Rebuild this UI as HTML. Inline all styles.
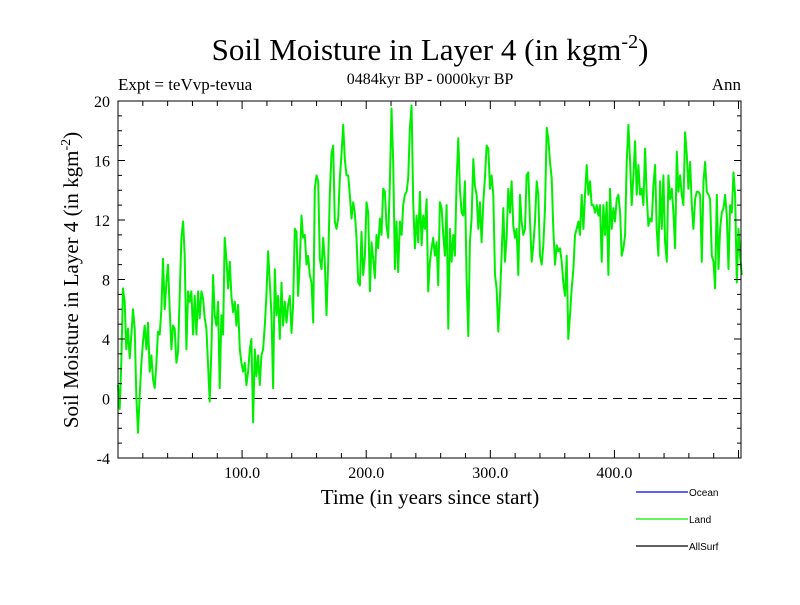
<!DOCTYPE html>
<html><head><meta charset="utf-8"><style>
body{margin:0;background:#fff}
svg text{font-family:"Liberation Serif",serif}
</style></head><body>
<svg id="c" width="800" height="600" xmlns="http://www.w3.org/2000/svg">
<text x="430" y="60" font-size="31" text-anchor="middle">Soil Moisture in Layer 4 (in kgm<tspan dy="-12" font-size="20">-2</tspan><tspan dy="12">)</tspan></text>
<text x="430" y="84" font-size="16" text-anchor="middle">0484kyr BP - 0000kyr BP</text>
<text x="118" y="90" font-size="17">Expt = teVvp-tevua</text>
<text x="741" y="90" font-size="17" text-anchor="end">Ann</text>
<text x="430" y="504" font-size="21" text-anchor="middle">Time (in years since start)</text>
<text transform="translate(78,280) rotate(-90)" font-size="21" text-anchor="middle">Soil Moisture in Layer 4 (in kgm<tspan dy="-8" font-size="14">-2</tspan><tspan dy="8">)</tspan></text>
<g id="axes"></g>
<g id="legend" font-size="10"></g>
</svg>
<script>
const NS='http://www.w3.org/2000/svg';
const yTicks=[-4,0,4,8,12,16,20];
const xTicks=[100,200,300,400];
const xTickLabels=['100.0','200.0','300.0','400.0'];
const startYear=0, stepYears=1.344;
const landValues=[0.9,-0.7,2.4,7.4,6.5,3.3,4.7,2.7,4.2,6.0,
4.7,0.2,-2.3,0.2,2.4,3.8,4.9,3.3,5.1,1.8,
2.9,1.3,0.7,2.4,4.5,4.3,6.0,9.4,6.0,7.8,
9.0,6.0,3.3,4.9,4.7,2.4,3.1,6.9,10.8,11.9,
9.6,3.3,7.2,6.5,7.2,4.3,6.9,4.3,7.2,5.4,
7.2,6.7,5.4,4.7,2.2,-0.2,3.3,8.3,5.6,4.9,
6.5,0.7,5.6,4.3,10.8,9.4,7.4,9.2,6.9,5.8,
6.5,4.9,6.3,3.3,2.4,1.8,2.4,0.9,1.8,3.3,
4.0,-1.6,3.3,1.5,2.9,0.9,2.9,3.3,4.9,6.9,
9.9,7.8,5.6,0.7,8.7,5.6,6.9,4.0,7.8,4.9,
6.5,5.1,6.3,6.9,4.4,6.3,11.4,11.2,6.9,9.2,
12.3,10.8,11.0,9.0,9.6,8.3,7.8,5.1,14.1,15.0,
14.6,9.4,8.7,10.8,9.2,5.6,9.2,13.7,16.5,
17.0,11.9,11.4,12.1,14.8,16.4,18.4,16.1,15.0,15.0,13.7,12.1,13.2,12.5,10.8,7.8,7.6,11.2,8.3,9.6,
13.2,12.5,7.2,10.5,9.4,8.1,11.0,10.1,12.1,11.0,14.1,13.9,11.6,10.8,14.6,19.5,15.9,8.7,11.9,8.5,
11.9,11.0,13.0,13.7,13.9,14.8,18.2,19.7,13.2,10.1,12.3,10.5,13.9,10.3,12.3,11.4,13.4,7.2,9.2,10.1,
10.8,9.6,10.5,7.6,13.2,12.8,11.0,9.6,13.0,4.7,11.4,9.2,11.0,9.6,14.6,17.5,14.1,12.5,12.3,14.6,
8.1,4.2,10.5,12.1,16.1,14.3,13.7,11.4,13.2,10.5,13.2,14.8,17.0,16.8,14.1,15.0,13.7,8.3,7.4,4.5,
6.9,9.6,12.8,9.2,10.8,14.1,12.5,14.6,11.6,10.8,11.4,8.3,13.7,11.9,11.0,11.4,15.0,15.2,11.9,
9.2,10.3,11.9,14.6,13.7,9.6,9.0,10.3,12.8,18.2,17.5,15.9,14.8,11.4,9.0,10.3,9.9,10.1,9.2,7.8,
6.9,9.6,4.0,5.6,7.4,8.7,11.0,11.4,11.9,11.0,13.7,11.4,13.7,15.7,13.7,14.6,13.0,13.0,12.5,13.0,
12.3,13.0,9.2,13.0,11.0,13.2,8.3,14.1,11.4,12.8,11.9,13.4,13.7,12.5,9.6,10.1,11.0,15.9,18.4,15.9,
13.0,15.0,17.3,13.7,15.7,13.7,14.1,13.0,16.8,13.7,11.6,12.1,11.9,14.3,15.7,11.4,9.6,14.6,11.4,15.0,
10.5,9.2,15.0,13.4,14.1,12.5,10.1,16.6,13.9,15.0,13.7,13.0,17.9,16.4,14.1,15.9,13.0,11.4,13.4,13.9,
13.9,13.7,9.2,14.6,15.9,13.9,13.7,13.4,9.6,9.2,7.4,13.7,8.7,11.4,12.5,12.8,13.7,12.3,8.7,13.0,
12.5,15.2,13.7,7.8,11.4,9.6,8.3];
const L=118,R=741,T=101,B=458,X0=0,X1=502,Y0=-4,Y1=20;
const sx=v=>L+(v-X0)/(X1-X0)*(R-L);
const sy=v=>B-(v-Y0)/(Y1-Y0)*(B-T);
const ax=document.getElementById('axes');
function mk(tag,attrs,parent){const e=document.createElementNS(NS,tag);for(const k in attrs)e.setAttribute(k,attrs[k]);(parent||ax).appendChild(e);return e;}
// zero line
let z=mk('line',{x1:L,x2:R,y1:sy(0),y2:sy(0),stroke:'#000','stroke-dasharray':'9,6','stroke-width':1});


// series
let d='';landValues.forEach((v,i)=>{d+=(i?'L':'M')+sx(startYear+i*stepYears).toFixed(1)+','+sy(v).toFixed(1);});
let p=mk('path',{d:d,fill:'none',stroke:'#00ee00','stroke-width':2,'stroke-linejoin':'round'});


// frame
let f=mk('rect',{x:L,y:T,width:R-L,height:B-T,fill:'none',stroke:'#000','stroke-width':1});


// y minor ticks
for(let v=Y0;v<=Y1;v++){const major=v%4===0;const len=major?7:4;
 mk('line',{x1:L,x2:L+len,y1:sy(v),y2:sy(v),stroke:'#000'});
 mk('line',{x1:R-len,x2:R,y1:sy(v),y2:sy(v),stroke:'#000'});}
yTicks.forEach(v=>{const t=mk('text',{x:L-8,y:sy(v)+6,'font-size':16,'text-anchor':'end'});t.textContent=v;
 
 });
for(let v=20;v<X1;v+=20){const major=v%100===0;const len=major?8:5;
 mk('line',{x1:sx(v),x2:sx(v),y1:B,y2:B-len,stroke:'#000'});
 mk('line',{x1:sx(v),x2:sx(v),y1:T,y2:T+len,stroke:'#000'});}
xTicks.forEach((v,i)=>{const t=mk('text',{x:sx(v),y:B+20,'font-size':16,'text-anchor':'middle'});t.textContent=xTickLabels[i];
 
 });
// legend
const lg=document.getElementById('legend');
const legendNames=['Ocean','Land','AllSurf'];
const legendColors=['#0000ff','#00ee00','#000000'];
legendNames.forEach((n,i)=>{const y=492+i*27;
 const g=mk('g',{},lg);
 
 
 mk('line',{x1:636,x2:688,y1:y,y2:y,stroke:legendColors[i],'stroke-width':1.3},g);
 const t=mk('text',{x:689,y:y+4,'font-size':10,style:'font-family:"Liberation Sans",sans-serif'},g);t.textContent=n;});
</script>
</body></html>
